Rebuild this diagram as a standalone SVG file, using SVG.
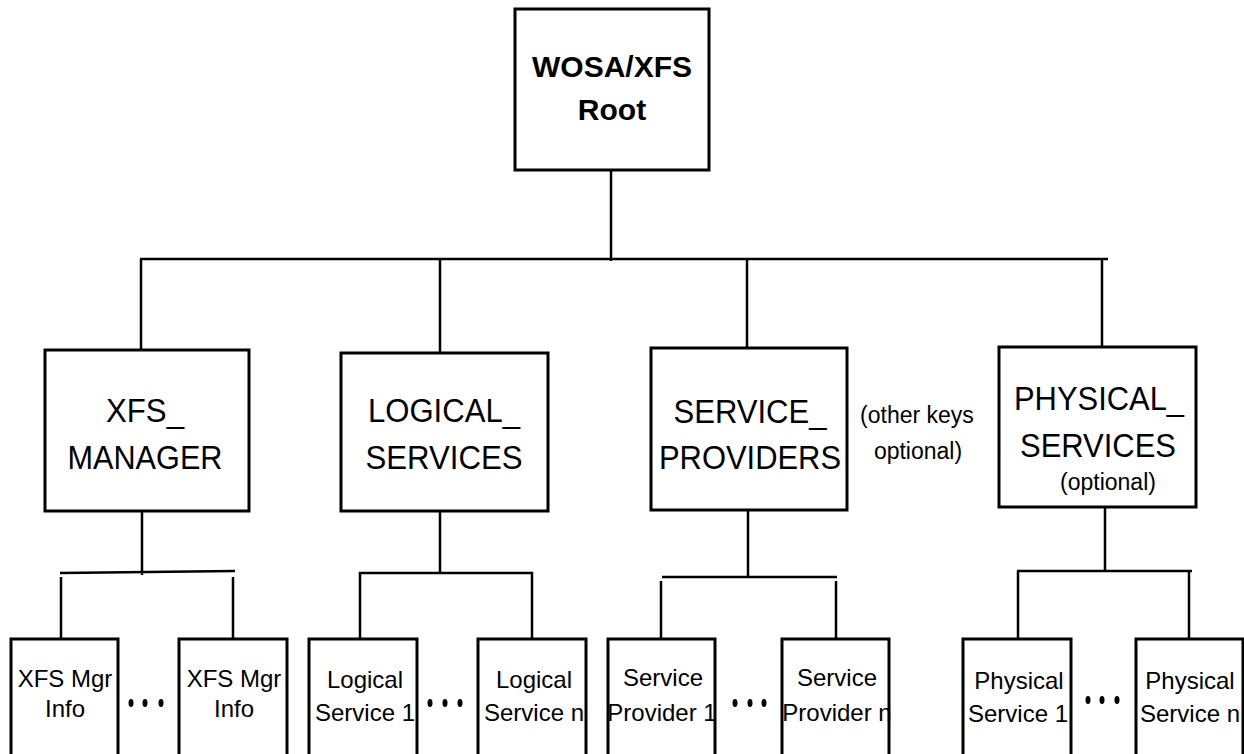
<svg xmlns="http://www.w3.org/2000/svg" width="1244" height="754" viewBox="0 0 1244 754">
<style>
.box{fill:#fff;stroke:#000;stroke-width:3}
.ln{fill:none;stroke:#000;stroke-width:2.5}
text{font-family:"Liberation Sans",Arial,sans-serif;fill:#000;text-anchor:middle}
.big{font-size:34px}
.bold{font-size:30px;font-weight:bold}
.sm{font-size:23px}
.leaf{font-size:24px}
.dot{fill:#000}
</style>
<rect width="1244" height="754" fill="#fff"/>
<g id="connectors">
<path class="ln" d="M611 170V261"/>
<path class="ln" d="M140 259H1108"/>
<path class="ln" d="M141 259V350M440 259V352M747 259V349M1102 259V347"/>
<path class="ln" d="M142 511V575M60 573L235 571M61 577V639M233 577V639"/>
<path class="ln" d="M440 511V573M360 639V573H532V639"/>
<path class="ln" d="M748 511V577M662 577H837M661 581V639M836 581V639"/>
<path class="ln" d="M1105 507V571M1017 571H1192M1018 571V639M1189 571V639"/>
</g>
<g id="root">
<rect class="box" x="515" y="9" width="194" height="161"/>
<text class="bold" x="612" y="77">WOSA/XFS</text>
<text class="bold" x="612" y="120">Root</text>
</g>
<g id="xfs_manager">
<rect class="box" x="45" y="350" width="204" height="161"/>
<text class="big" x="145" y="422" textLength="78" lengthAdjust="spacingAndGlyphs">XFS_</text>
<text class="big" x="145" y="469" textLength="155" lengthAdjust="spacingAndGlyphs">MANAGER</text>
</g>
<g id="logical_services">
<rect class="box" x="341" y="353" width="207" height="158"/>
<text class="big" x="444" y="422" textLength="152" lengthAdjust="spacingAndGlyphs">LOGICAL_</text>
<text class="big" x="444" y="469" textLength="157" lengthAdjust="spacingAndGlyphs">SERVICES</text>
</g>
<g id="service_providers">
<rect class="box" x="651" y="348" width="196" height="162"/>
<text class="big" x="750" y="423" textLength="153" lengthAdjust="spacingAndGlyphs">SERVICE_</text>
<text class="big" x="750" y="469" textLength="182" lengthAdjust="spacingAndGlyphs">PROVIDERS</text>
</g>
<g id="other_keys_note">
<text class="sm" x="917" y="423">(other keys</text>
<text class="sm" x="918" y="459">optional)</text>
</g>
<g id="physical_services">
<rect class="box" x="999" y="347" width="197" height="160"/>
<text class="big" x="1099" y="410" textLength="170" lengthAdjust="spacingAndGlyphs">PHYSICAL_</text>
<text class="big" x="1098" y="457" textLength="156" lengthAdjust="spacingAndGlyphs">SERVICES</text>
<text class="sm" x="1108" y="490">(optional)</text>
</g>
<g id="xfs_mgr_info_1">
<rect class="box" x="11" y="639" width="107" height="118"/>
<text class="leaf" x="65" y="687">XFS Mgr</text>
<text class="leaf" x="65" y="717">Info</text>
</g>
<g id="xfs_dots">
<ellipse class="dot" cx="131" cy="703" rx="2.5" ry="4"/>
<ellipse class="dot" cx="145" cy="703" rx="2.5" ry="4"/>
<ellipse class="dot" cx="161" cy="703" rx="2.5" ry="4"/>
</g>
<g id="xfs_mgr_info_n">
<rect class="box" x="179" y="639" width="108" height="118"/>
<text class="leaf" x="234" y="687">XFS Mgr</text>
<text class="leaf" x="234" y="717">Info</text>
</g>
<g id="logical_service_1">
<rect class="box" x="309" y="639" width="108" height="118"/>
<text class="leaf" x="365" y="688">Logical</text>
<text class="leaf" x="365" y="721">Service 1</text>
</g>
<g id="logical_dots">
<ellipse class="dot" cx="430" cy="703" rx="2.5" ry="4"/>
<ellipse class="dot" cx="445" cy="703" rx="2.5" ry="4"/>
<ellipse class="dot" cx="460" cy="703" rx="2.5" ry="4"/>
</g>
<g id="logical_service_n">
<rect class="box" x="478" y="639" width="108" height="118"/>
<text class="leaf" x="534" y="688">Logical</text>
<text class="leaf" x="534" y="721">Service n</text>
</g>
<g id="service_provider_1">
<rect class="box" x="608" y="639" width="107" height="118"/>
<text class="leaf" x="663" y="686">Service</text>
<text class="leaf" x="662" y="721">Provider 1</text>
</g>
<g id="provider_dots">
<ellipse class="dot" cx="735" cy="703" rx="2.5" ry="4"/>
<ellipse class="dot" cx="750" cy="703" rx="2.5" ry="4"/>
<ellipse class="dot" cx="764" cy="703" rx="2.5" ry="4"/>
</g>
<g id="service_provider_n">
<rect class="box" x="782" y="639" width="107" height="118"/>
<text class="leaf" x="837" y="686">Service</text>
<text class="leaf" x="837" y="721">Provider n</text>
</g>
<g id="physical_service_1">
<rect class="box" x="963" y="639" width="108" height="118"/>
<text class="leaf" x="1019" y="689">Physical</text>
<text class="leaf" x="1018" y="722">Service 1</text>
</g>
<g id="physical_dots">
<ellipse class="dot" cx="1088" cy="700" rx="2.5" ry="4"/>
<ellipse class="dot" cx="1102" cy="700" rx="2.5" ry="4"/>
<ellipse class="dot" cx="1117" cy="700" rx="2.5" ry="4"/>
</g>
<g id="physical_service_n">
<rect class="box" x="1136" y="639" width="107" height="118"/>
<text class="leaf" x="1190" y="689">Physical</text>
<text class="leaf" x="1190" y="722">Service n</text>
</g>
</svg>
